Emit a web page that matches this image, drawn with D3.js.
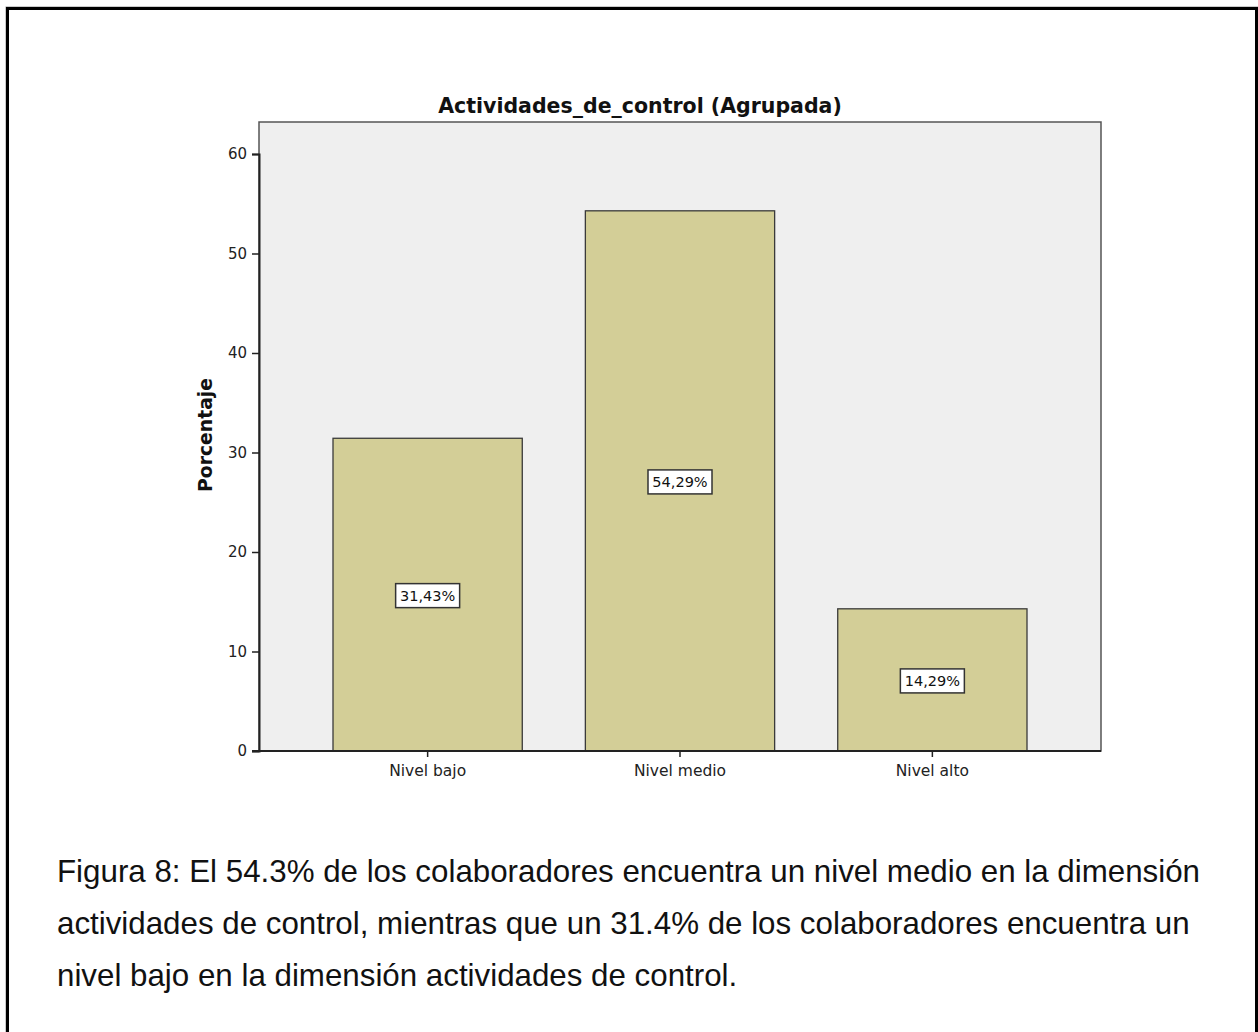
<!DOCTYPE html>
<html>
<head>
<meta charset="utf-8">
<script src="https://cdn.jsdelivr.net/npm/d3@7"></script>
<style>
  html, body { margin: 0; padding: 0; background: #fff; }
  svg { display: block; }
</style>
</head>
<body>
<script>
// Grouped control-activities levels and their percentages
const categories = ["Nivel bajo", "Nivel medio", "Nivel alto"];
const percentages = [31.43, 54.29, 14.29];
const valueLabels = ["31,43%", "54,29%", "14,29%"];
const yTicks = [0, 10, 20, 30, 40, 50, 60];
const chartTitle = "Actividades_de_control (Agrupada)";
const yTitle = "Porcentaje";
const captionLines = [
  "Figura 8: El 54.3% de los colaboradores encuentra un nivel medio en la dimensión",
  "actividades de control, mientras que un 31.4% de los colaboradores encuentra un",
  "nivel bajo en la dimensión actividades de control."
];

const W = 1258, H = 1032;
const plot = { left: 259, top: 122, right: 1101, bottom: 751 };
const chartFont = "'DejaVu Sans', sans-serif";

const svg = d3.select("body").append("svg")
  .attr("width", W).attr("height", H);

svg.append("rect").attr("width", W).attr("height", H).attr("fill", "#fff");

// Outer frame around figure and caption
svg.append("rect")
  .attr("x", 6).attr("y", 7).attr("width", 1252).attr("height", 1040)
  .attr("fill", "none").attr("stroke", "#999").attr("stroke-width", 1);
svg.append("rect")
  .attr("x", 7.5).attr("y", 8.5).attr("width", 1249).attr("height", 1040)
  .attr("fill", "none").attr("stroke", "#000").attr("stroke-width", 3);

// Scales
const y = d3.scaleLinear().domain([0, 60])
  .range([plot.bottom, 154]);
const x = d3.scaleBand().domain(categories)
  .range([333, 1027]).paddingInner(0.25).paddingOuter(0);

// Plot background
svg.append("rect")
  .attr("x", plot.left).attr("y", plot.top)
  .attr("width", plot.right - plot.left).attr("height", plot.bottom - plot.top)
  .attr("fill", "#efefef").attr("stroke", "#555").attr("stroke-width", 1.5);

// Bars
svg.append("g").selectAll("rect")
  .data(percentages)
  .join("rect")
  .attr("x", (d, i) => x(categories[i]))
  .attr("y", d => y(d))
  .attr("width", x.bandwidth())
  .attr("height", d => plot.bottom - y(d))
  .attr("fill", "#d3ce97")
  .attr("stroke", "#3a3a3a")
  .attr("stroke-width", 1.3);

// Value labels in boxes at mid-height
const lbl = svg.append("g").selectAll("g")
  .data(percentages)
  .join("g")
  .attr("transform", (d, i) =>
    `translate(${x(categories[i]) + x.bandwidth() / 2},${y(d / 2) + 1})`);
lbl.append("rect")
  .attr("x", -32).attr("y", -12).attr("width", 64).attr("height", 24)
  .attr("fill", "#fff").attr("stroke", "#333").attr("stroke-width", 1.5);
lbl.append("text")
  .text((d, i) => valueLabels[i])
  .attr("text-anchor", "middle").attr("dy", "0.36em")
  .attr("font-family", chartFont).attr("font-size", 14.5)
  .attr("fill", "#111");

// Y axis
const yAxis = svg.append("g")
  .attr("transform", `translate(${plot.left},0)`)
  .call(d3.axisLeft(y).tickValues(yTicks).tickSize(7).tickPadding(5).tickFormat(d3.format("d")));
yAxis.select(".domain").attr("stroke", "#222").attr("stroke-width", 2);
yAxis.selectAll(".tick line").attr("stroke", "#222").attr("stroke-width", 1.5);
yAxis.selectAll(".tick text")
  .attr("font-family", chartFont).attr("font-size", 15).attr("fill", "#222");

// X axis
const xAxis = svg.append("g")
  .attr("transform", `translate(0,${plot.bottom})`)
  .call(d3.axisBottom(x).tickSize(6).tickPadding(8));
xAxis.select(".domain").remove();
xAxis.selectAll(".tick line").attr("stroke", "#222").attr("stroke-width", 1.5);
xAxis.selectAll(".tick text")
  .attr("font-family", chartFont).attr("font-size", 15.5).attr("fill", "#222");
svg.append("line")
  .attr("x1", plot.left - 7).attr("x2", plot.right)
  .attr("y1", plot.bottom).attr("y2", plot.bottom)
  .attr("stroke", "#222").attr("stroke-width", 2);

// Titles
svg.append("text")
  .attr("x", 640).attr("y", 113)
  .attr("text-anchor", "middle")
  .attr("font-family", chartFont).attr("font-weight", "bold").attr("font-size", 20.5)
  .attr("fill", "#111")
  .text(chartTitle);

svg.append("text")
  .attr("transform", `translate(212,435) rotate(-90)`)
  .attr("text-anchor", "middle")
  .attr("font-family", chartFont).attr("font-weight", "bold").attr("font-size", 18.8)
  .attr("fill", "#111")
  .text(yTitle);

// Caption
svg.append("g").selectAll("text")
  .data(captionLines)
  .join("text")
  .attr("x", 57)
  .attr("y", (d, i) => 882 + i * 52)
  .attr("font-family", "'Liberation Sans', Arial, sans-serif")
  .attr("font-size", 31.3)
  .attr("fill", "#111")
  .text(d => d);
</script>
</body>
</html>
